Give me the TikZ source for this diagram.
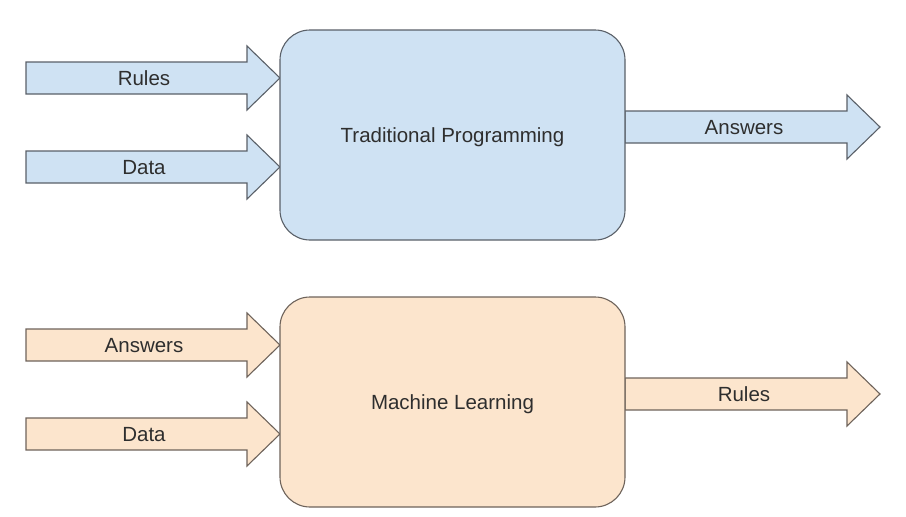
\documentclass[tikz,border=0pt]{standalone}
\usepackage{fontspec}
\setmainfont{Liberation Sans}
\definecolor{bluefill}{HTML}{CFE2F3}
\definecolor{bluedraw}{HTML}{5A6068}
\definecolor{orangefill}{HTML}{FCE5CD}
\definecolor{orangedraw}{HTML}{6E635B}
\definecolor{txt}{HTML}{2E2E2E}
\begin{document}
\begin{tikzpicture}[x=1pt,y=-1pt,
  lbl/.style={font=\fontsize{20.5}{24}\selectfont, text=txt, inner sep=0pt, text depth=0pt},
  bluearr/.style={fill=bluefill, draw=bluedraw, line width=1.1pt, line join=miter},
  orangearr/.style={fill=orangefill, draw=orangedraw, line width=1.1pt, line join=miter},
  bluebox/.style={fill=bluefill, draw=bluedraw, line width=1.1pt, rounded corners=30pt,
    minimum width=345pt, minimum height=210pt, lbl},
  orangebox/.style={fill=orangefill, draw=orangedraw, line width=1.1pt, rounded corners=30pt,
    minimum width=345pt, minimum height=210pt, lbl}]
\useasboundingbox (0,0) rectangle (906,517);

% top arrows
\path[bluearr] (26,62)--(247,62)--(247,46)--(280,78)--(247,110)--(247,94)--(26,94)--cycle;
\path[bluearr] (26,151)--(247,151)--(247,135)--(280,167)--(247,199)--(247,183)--(26,183)--cycle;
\path[bluearr] (625,111)--(847,111)--(847,95)--(880,127)--(847,159)--(847,143)--(625,143)--cycle;
\node[lbl] (t1) at (144,78) {Rules};
\node[lbl] (t2) at (144,167) {Data};
\node[lbl] (t3) at (744,127) {Answers};

% bottom arrows
\path[orangearr] (26,329)--(247,329)--(247,313)--(280,345)--(247,377)--(247,361)--(26,361)--cycle;
\path[orangearr] (26,418)--(247,418)--(247,402)--(280,434)--(247,466)--(247,450)--(26,450)--cycle;
\path[orangearr] (625,378)--(847,378)--(847,362)--(880,394)--(847,426)--(847,410)--(625,410)--cycle;
\node[lbl] (b1) at (144,345) {Answers};
\node[lbl] (b2) at (144,434) {Data};
\node[lbl] (b3) at (744,394) {Rules};

% boxes
\node[bluebox] (tp) at (452.5,135) {Traditional Programming};
\node[orangebox] (ml) at (452.5,402) {Machine Learning};
\end{tikzpicture}
\end{document}
